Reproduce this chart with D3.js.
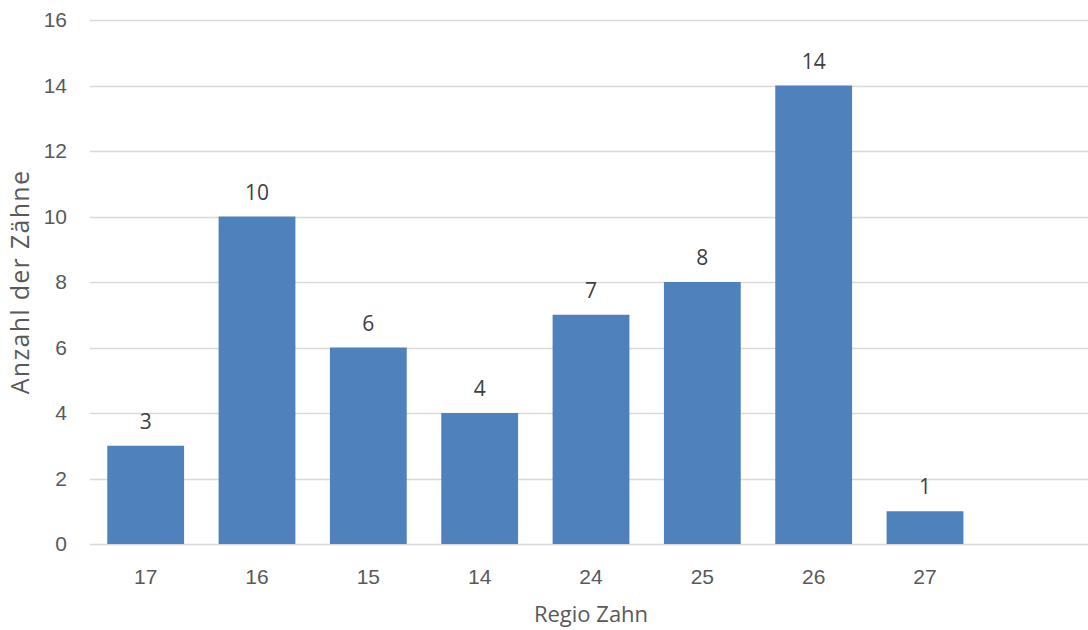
<!DOCTYPE html>
<html>
<head>
<meta charset="utf-8">
<script src="https://cdn.jsdelivr.net/npm/d3@7"></script>
<style>
  html, body { margin: 0; padding: 0; background: #fff; }
  svg { display: block; font-family: "Open Sans", "Liberation Sans", sans-serif; }
</style>
</head>
<body>
<svg id="chart" width="1088" height="630"></svg>
<script>
// Zähne je Regio
const categories = ["17", "16", "15", "14", "24", "25", "26", "27"];
const counts = [3, 10, 6, 4, 7, 8, 14, 1];
const yTicks = [0, 2, 4, 6, 8, 10, 12, 14, 16];

const svg = d3.select("#chart");
const margin = { left: 90, right: -4, top: 20, bottom: 86 };
const W = 1088, H = 630;

// one spare slot after the last category keeps the axis running on
const x = d3.scaleBand()
  .domain([...categories, " "])
  .range([margin.left, W - margin.right])
  .paddingInner(0.31)
  .paddingOuter(0.155);

const y = d3.scaleLinear()
  .domain([0, 16])
  .range([H - margin.bottom, margin.top]);

const textColor = "#595959";
const fs = 21;

// gridlines
svg.append("g")
  .selectAll("line")
  .data(yTicks)
  .join("line")
  .attr("x1", margin.left)
  .attr("x2", W)
  .attr("y1", d => Math.round(y(d)) + 0.5)
  .attr("y2", d => Math.round(y(d)) + 0.5)
  .attr("stroke", "#d9d9d9")
  .attr("stroke-width", 1.5);

// y axis labels
const yAxis = svg.append("g")
  .attr("transform", `translate(${margin.left},0)`)
  .call(d3.axisLeft(y).tickValues(yTicks).tickSize(0).tickPadding(23));
yAxis.select(".domain").remove();
yAxis.selectAll("text")
  .attr("fill", textColor)
  .style("font-size", fs + "px")
  .style("font-family", "inherit");

// bars
svg.append("g")
  .selectAll("rect")
  .data(categories.map((c, i) => ({ c, v: counts[i] })))
  .join("rect")
  .attr("x", d => x(d.c))
  .attr("width", x.bandwidth())
  .attr("y", d => y(d.v))
  .attr("height", d => y(0) - y(d.v))
  .attr("fill", "#4f81bd");

// value labels
svg.append("g")
  .selectAll("text")
  .data(categories.map((c, i) => ({ c, v: counts[i] })))
  .join("text")
  .attr("x", d => x(d.c) + x.bandwidth() / 2)
  .attr("y", d => y(d.v) - 17)
  .attr("text-anchor", "middle")
  .attr("fill", "#404040")
  .style("font-size", fs + "px")
  .text(d => d.v);

// x axis labels
const xAxis = svg.append("g")
  .attr("transform", `translate(0,${y(0)})`)
  .call(d3.axisBottom(x).tickSize(0).tickPadding(25));
xAxis.select(".domain").remove();
xAxis.selectAll("text")
  .attr("fill", textColor)
  .style("font-size", fs + "px")
  .style("font-family", "inherit");

// axis titles
svg.append("text")
  .attr("x", (margin.left + W - margin.right) / 2)
  .attr("y", 622)
  .attr("text-anchor", "middle")
  .attr("fill", textColor)
  .style("font-size", "22px")
  .text("Regio Zahn");

svg.append("text")
  .attr("transform", `translate(29,${(y(0) + y(16)) / 2}) rotate(-90)`)
  .attr("text-anchor", "middle")
  .attr("fill", textColor)
  .style("font-size", "25px")
  .style("letter-spacing", "1.3px")
  .text("Anzahl der Zähne");
</script>
</body>
</html>
